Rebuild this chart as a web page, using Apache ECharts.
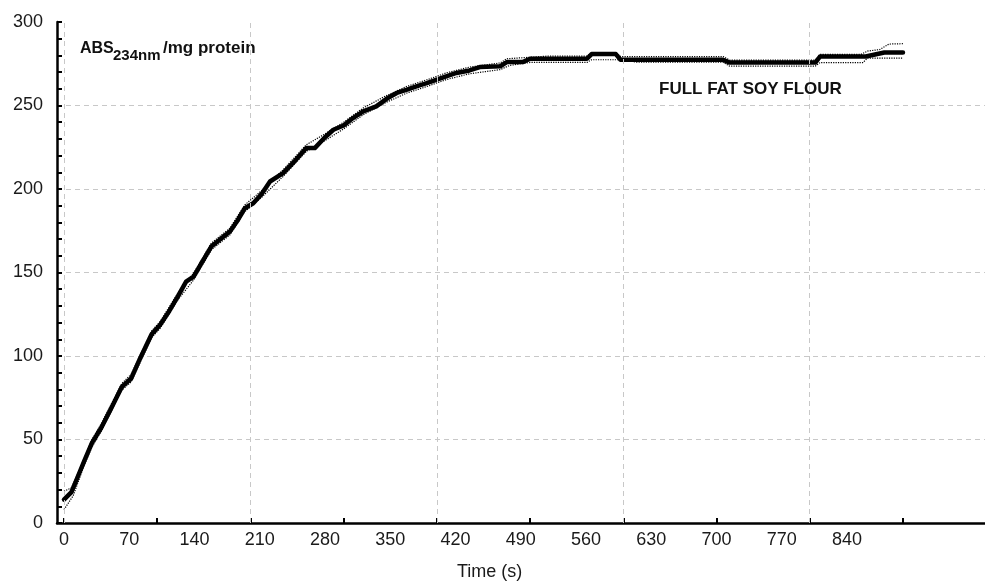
<!DOCTYPE html>
<html>
<head>
<meta charset="utf-8">
<title>Full fat soy flour</title>
<script src="https://cdn.jsdelivr.net/npm/echarts@6/dist/echarts.min.js"></script>
<style>
    html, body { margin: 0; padding: 0; background: #fff; }
    #chart { width: 985px; height: 583px; }
</style>
</head>
<body>
<div id="chart"></div>
<script>
// main curve (thick line)
const mainT = [0, 8, 15, 22, 30, 40, 50, 62, 72, 82, 94, 103, 113, 122, 131, 139, 148, 158, 168, 178,
    186, 194, 203, 212, 221, 235, 248, 260, 269, 280, 289, 300, 310, 321, 335, 346, 357, 368, 378, 390,
    400, 410, 421, 435, 446, 468, 475, 492, 500, 561, 566, 592, 597, 707, 714, 806, 811, 854, 860, 870, 880, 900];
const mainV = [14, 18.5, 28, 37.5, 48, 57, 68, 81.5, 86.5, 99, 113, 118.5, 127, 135.5, 144.5, 147.5, 156, 165.5, 170, 174.5,
    181, 188.5, 191.5, 197, 204.5, 209.5, 217, 224.5, 224.5, 231, 235.5, 238, 242.5, 246.5, 249.5, 254, 257.5, 259.5, 261.5, 263.5,
    265.5, 267.5, 269.5, 271, 273, 273.5, 276, 276, 278, 278, 280.8, 280.8, 277.4, 277.4, 275.7, 275.7, 279.3, 279.3, 279.3, 280.5, 281.7, 281.7];

// dotted envelope
const upperT = [0, 8, 20, 30, 40, 62, 72, 94, 103, 122, 139, 158, 178, 194, 212, 235, 260, 280, 300, 321,
    346, 368, 390, 410, 435, 468, 475, 520, 561, 566, 592, 597, 707, 714, 806, 811, 855, 862, 875, 885, 900];
const upperV = [19, 21, 36, 50, 59.5, 83.5, 89, 115, 120.5, 137.5, 149.5, 167.5, 176.5, 190.5, 199, 211.5, 226.5, 233, 240, 248.5,
    256, 261.5, 265.5, 269.5, 273, 275.5, 278, 279.6, 279.6, 281.5, 281.5, 279.3, 279.3, 277.2, 277.2, 280.6, 280.6, 282.6, 283.5, 286.8, 287];
const lowerT = [0, 10, 22, 30, 40, 62, 72, 94, 103, 122, 139, 158, 178, 194, 212, 235, 260, 280, 300, 321,
    346, 368, 390, 410, 435, 468, 478, 500, 561, 566, 600, 614, 707, 714, 806, 811, 857, 862, 900];
const lowerV = [8, 16.5, 35, 45.5, 55, 79.5, 84.5, 111, 116.5, 133.5, 145.5, 163.5, 172.5, 186.5, 195, 207.5, 222.5, 229, 236, 244.5,
    252, 257.5, 261.5, 265.5, 269, 271.5, 274, 275.8, 275.8, 277.4, 277.4, 275.9, 275.9, 273.6, 273.6, 275.7, 275.7, 278.4, 278.4];

// axis values
const xLabels = [0, 70, 140, 210, 280, 350, 420, 490, 560, 630, 700, 770, 840];
const xTicks = [0, 100, 200, 300, 400, 500, 600, 700, 800, 900];
const xGrid = [0, 200, 400, 600, 800];

const zip = (a, b) => a.map((v, i) => [v, b[i]]);

const font = '"Liberation Sans", Arial, sans-serif';
const dashed = { color: '#c8c8c8', type: [5, 4], width: 1 };

let chart = echarts.init(document.getElementById('chart'), null, { renderer: 'canvas' });

let option = {
    animation: false,
    backgroundColor: '#fff',
    grid: { left: 57, right: 0, top: 22, bottom: 60 },
    xAxis: {
        type: 'value',
        min: -7.5,
        max: 988,
        axisLine: { onZero: false, lineStyle: { color: '#000', width: 2.5 } },
        axisTick: { inside: true, length: 5, customValues: xTicks, lineStyle: { color: '#000', width: 2 } },
        axisLabel: { customValues: xLabels, fontSize: 18, color: '#1a1a1a', fontFamily: font, margin: 8 },
        splitLine: { show: false }
    },
    yAxis: {
        type: 'value',
        min: 0,
        max: 300,
        interval: 50,
        axisLine: { show: true, onZero: false, lineStyle: { color: '#000', width: 2.5 } },
        axisTick: { show: true, inside: true, length: 5, lineStyle: { color: '#000', width: 2 } },
        minorTick: { show: true, splitNumber: 5, length: 5, lineStyle: { color: '#000', width: 2 } },
        axisLabel: { fontSize: 18, color: '#1a1a1a', fontFamily: font, margin: 14 },
        splitLine: { show: true, showMinLine: false, showMaxLine: false, lineStyle: dashed }
    },
    graphic: [
        { type: 'text', left: 80, top: 41, style: { text: 'ABS', font: 'bold 16px ' + font, fill: '#111' } },
        { type: 'text', left: 113, top: 48, style: { text: '234nm', font: 'bold 15px ' + font, fill: '#111' } },
        { type: 'text', left: 163, top: 40, style: { text: '/mg protein', font: 'bold 17px ' + font, fill: '#111' } },
        { type: 'text', left: 659, top: 81, style: { text: 'FULL FAT SOY FLOUR', font: 'bold 17px ' + font, fill: '#111' } },
        { type: 'text', left: 457, top: 563, style: { text: 'Time (s)', font: '18px ' + font, fill: '#1a1a1a' } }
    ],
    series: [
        {
            name: 'grid',
            type: 'line',
            data: [],
            z: 1,
            markLine: {
                silent: true,
                symbol: 'none',
                label: { show: false },
                lineStyle: dashed,
                data: xGrid.map(v => ({ xAxis: v }))
            }
        },
        {
            name: 'upper',
            type: 'line',
            data: zip(upperT, upperV),
            showSymbol: false,
            lineStyle: { color: '#000', width: 1.2, type: 'dotted' },
            z: 3
        },
        {
            name: 'lower',
            type: 'line',
            data: zip(lowerT, lowerV),
            showSymbol: false,
            lineStyle: { color: '#000', width: 1.2, type: 'dotted' },
            z: 3
        },
        {
            name: 'mean',
            type: 'line',
            data: zip(mainT, mainV),
            showSymbol: false,
            lineStyle: { color: '#000', width: 4.5, cap: 'round', join: 'round' },
            z: 4
        }
    ]
};

chart.setOption(option);
</script>
</body>
</html>
